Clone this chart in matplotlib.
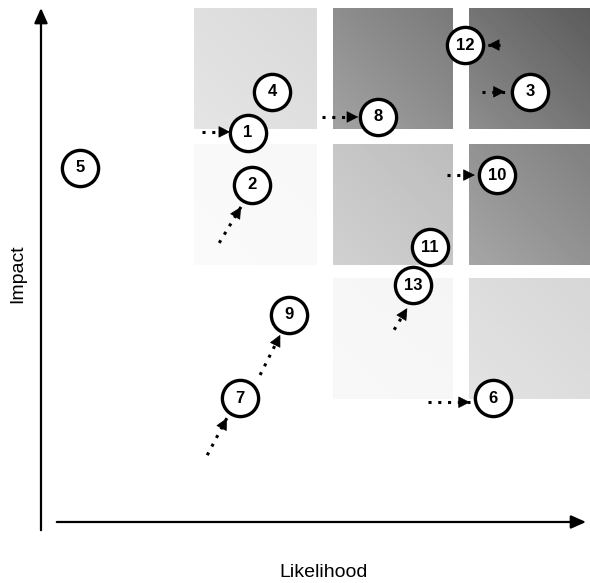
#!/usr/bin/env python3
"""Risk map: likelihood vs impact with movement arrows."""

import matplotlib

matplotlib.use("Agg")
import matplotlib.pyplot as plt
import numpy as np

# risk ids and their current position (likelihood, impact), 0-10 scale
risk_ids = ["1", "2", "3", "4", "5", "6", "7", "8", "9", "10", "11", "12", "13"]
likelihood = [3.80, 3.87, 8.97, 4.24, 0.72, 8.29, 3.65, 6.18, 4.55, 8.37, 7.14, 7.78, 6.83]
impact = [7.57, 6.56, 8.37, 8.37, 6.89, 2.41, 2.41, 7.88, 4.03, 6.75, 5.35, 9.28, 4.61]

# movement arrows: tail (from) and head (to)
move_from_x = [2.95, 5.15, 8.42, 8.09, 7.45, 3.27, 4.02, 3.05, 6.48, 7.10]
move_from_y = [7.59, 7.88, 9.28, 8.37, 6.75, 5.43, 2.86, 1.30, 3.74, 2.33]
move_to_x = [3.47, 5.82, 8.20, 8.51, 7.96, 3.67, 4.39, 3.41, 6.72, 7.87]
move_to_y = [7.59, 7.88, 9.28, 8.37, 6.75, 6.13, 3.64, 2.02, 4.16, 2.33]

# background zones (3x3 grid in the upper right), darkness 0..1
zone_x = [(2.80, 5.05), (5.35, 7.55), (7.85, 10.1)]
zone_y = [(2.40, 4.75), (5.00, 7.35), (7.65, 10.0)]
zone_shade = [
    [0.00, 0.04, 0.16],   # bottom row
    [0.03, 0.26, 0.50],   # middle row
    [0.15, 0.52, 0.64],   # top row
]


def main() -> None:
    fig = plt.figure(figsize=(5.9, 5.83), dpi=100)
    ax = fig.add_axes([0, 0, 1, 1])
    ax.set_xlim(-0.752, 10.073)
    ax.set_ylim(-1.187, 10.156)
    ax.axis("off")

    u, v = np.meshgrid(np.linspace(0, 1, 40), np.linspace(0, 1, 40))
    ramp = 0.7 + 0.3 * (u + v) / 2
    for r, (y0, y1) in enumerate(zone_y):
        for c, (x0, x1) in enumerate(zone_x):
            ax.imshow(zone_shade[r][c] * ramp, cmap="gray_r", vmin=0, vmax=1,
                      extent=(x0, x1, y0, y1), origin="lower", aspect="auto",
                      interpolation="bilinear", zorder=1)

    # axes arrows
    head = dict(arrowstyle="-|>,head_length=0.9,head_width=0.4", color="black",
                lw=1.6, shrinkA=0, shrinkB=0)
    ax.annotate("", xy=(0, 10.0), xytext=(0, -0.16), arrowprops=head)
    ax.annotate("", xy=(10.0, 0), xytext=(0.29, 0), arrowprops=head)
    ax.text(-0.42, 4.84, "Impact", rotation=90, ha="center", va="center",
            fontsize=14, family="Liberation Sans")
    ax.text(5.19, -0.99, "Likelihood", ha="center", va="center",
            fontsize=14, family="Liberation Sans")

    # movement arrows: dotted shaft plus solid head
    for x0, y0, x1, y1 in zip(move_from_x, move_from_y, move_to_x, move_to_y):
        ax.plot([x0, x1], [y0, y1], color="black", ls=(0, (1, 2.2)), lw=2.2,
                zorder=3)
        dx, dy = x1 - x0, y1 - y0
        n = np.hypot(dx, dy)
        ax.annotate("", xy=(x1, y1), xytext=(x1 - 0.05 * dx / n, y1 - 0.05 * dy / n),
                    arrowprops=dict(arrowstyle="-|>,head_length=0.75,head_width=0.38",
                                    color="black", lw=0.5, shrinkA=0, shrinkB=0),
                    zorder=4)

    ax.scatter(likelihood, impact, s=680, facecolor="white", edgecolor="black",
               linewidth=2.4, zorder=5)
    for label, x, y in zip(risk_ids, likelihood, impact):
        ax.text(x, y, label, ha="center", va="center", fontsize=12,
                fontweight="bold", family="Liberation Sans", zorder=6)

    fig.savefig("out.png", dpi=100)
    plt.close(fig)


if __name__ == "__main__":
    main()
